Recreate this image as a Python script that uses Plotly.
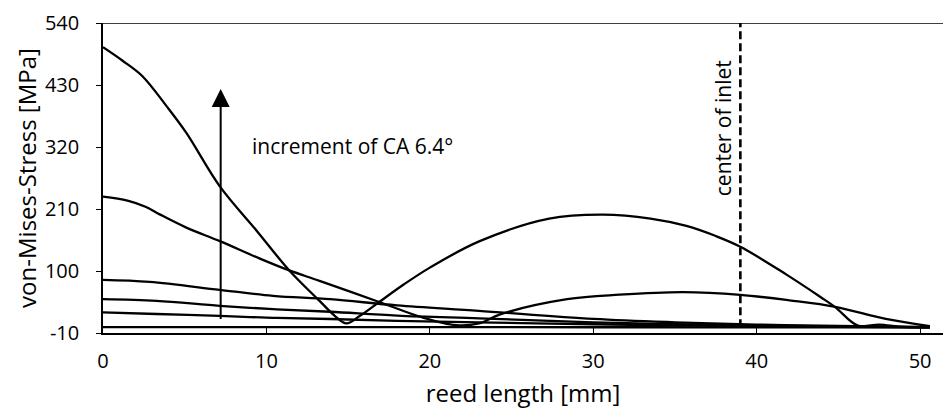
import plotly.graph_objects as go

# curve data (reed length in mm, von-Mises stress in MPa)
x1 = [0, 1.2, 2.4, 3.9, 5.1, 7.15, 9.5, 11.4, 13.25, 14.2, 14.9, 15.7, 16.9, 18.4, 20.0, 23.05, 27.3, 30.6, 33.5, 35.7, 37.5, 39.0, 41.8, 43.9, 44.8, 46.2, 47.5, 48.8, 50.6]
y1 = [497, 473, 446, 392, 345, 250, 168, 101, 47, 20, 7, 20, 45, 76, 106, 153, 193, 200, 193, 180, 162, 143, 94, 54, 36, 3, 5, 1, 0]

x2 = [0, 1.5, 2.6, 3.5, 5.1, 7.15, 9.6, 11.4, 13.25, 16.9, 19.5, 21.6, 23.0, 24.3, 28.4, 31.6, 35.5, 39.0, 42.0, 44.8, 47.9, 50.6]
y2 = [232, 225, 214, 200, 177, 153, 122, 101, 82.5, 45, 18, 4, 7, 23, 50, 58, 62.6, 57.7, 48, 36.5, 15, 2]

x3 = [0, 2.86, 7.14, 10.4, 13.9, 18.0, 23.0, 30.0, 35.0, 40.0, 45.0, 50.6]
y3 = [84.3, 80.7, 66.6, 56, 50, 39, 29.4, 15, 9, 5, 2.5, 0.5]

x4 = [0, 3.27, 7.14, 10.4, 13.9, 18.0, 23.0, 30.0, 35.0, 40.0, 45.0, 50.6]
y4 = [50, 47, 38.3, 32.4, 27.7, 21, 16, 9, 5.5, 3, 1.5, 0.3]

x5 = [0, 3.27, 7.14, 10.4, 13.9, 18.0, 23.0, 30.0, 35.0, 40.0, 45.0, 50.6]
y5 = [26.6, 23.7, 20.4, 16.9, 14.8, 11.5, 9, 5.5, 3.5, 2, 1, 0.2]

x6 = [0, 10, 20, 30, 40, 50.6]
y6 = [0.5, 0.4, 0.3, 0.2, 0.1, 0]

series = [(x1, y1), (x2, y2), (x3, y3), (x4, y4), (x5, y5), (x6, y6)]

y_ticks = [-10, 100, 210, 320, 430, 540]
x_ticks = [0, 10, 20, 30, 40, 50]
inlet_x = 39.0
arrow_x = 7.2
arrow_y0, arrow_y1 = 12, 423

FONT = "Open Sans"
CLEAR = "rgba(0,0,0,0)"

fig = go.Figure()
for xs, ys in series:
    fig.add_trace(go.Scatter(x=xs, y=ys, mode="lines",
                             line=dict(color="black", width=2.3, shape="spline", smoothing=1.0),
                             showlegend=False, hoverinfo="skip"))

# dashed center-of-inlet line
fig.add_trace(go.Scatter(x=[inlet_x, inlet_x], y=[0, 540], mode="lines",
                         line=dict(color="black", width=2.6, dash="8px,4px"),
                         showlegend=False, hoverinfo="skip"))

# top border line
fig.add_shape(type="line", xref="paper", yref="y", x0=0, x1=1, y0=540, y1=540,
              line=dict(color="black", width=1.3))

# arrow
fig.add_annotation(x=arrow_x, y=arrow_y1, ax=arrow_x, ay=arrow_y0, xref="x", yref="y",
                   axref="x", ayref="y", showarrow=True, arrowhead=2, arrowsize=1.8,
                   arrowwidth=2, arrowcolor="black", text="")

fig.add_annotation(x=9.0, y=322, xref="x", yref="y", text="increment of CA 6.4°",
                   showarrow=False, xanchor="left", yanchor="middle",
                   font=dict(family=FONT, size=21, color="black"))

fig.add_annotation(x=37.9, y=354, xref="x", yref="y", text="center of inlet",
                   showarrow=False, textangle=-90, xanchor="center", yanchor="middle",
                   font=dict(family=FONT, size=21, color="black"))

fig.update_layout(
    width=943, height=409,
    margin=dict(l=103, r=0, t=23, b=76),
    paper_bgcolor="white", plot_bgcolor="white",
    font=dict(family=FONT, size=20, color="black"),
    xaxis=dict(range=[0, 51.4], tickvals=x_ticks, ticktext=[str(v) for v in x_ticks],
               showgrid=False, zeroline=False, showline=True, linecolor="black", linewidth=1.5,
               ticks="outside", ticklen=9, tickcolor=CLEAR,
               title=dict(text="reed length [mm]", standoff=16),
               tickfont=dict(family=FONT, size=20)),
    yaxis=dict(range=[-10, 540], tickvals=y_ticks, ticktext=[str(v) for v in y_ticks],
               showgrid=False, zeroline=False, showline=True, linecolor="black", linewidth=1.5,
               ticks="outside", ticklen=18, tickcolor=CLEAR,
               title=dict(text="von-Mises-Stress [MPa]", standoff=2),
               tickfont=dict(family=FONT, size=20)),
    # overlay axes that only draw the visible tick marks
    xaxis2=dict(overlaying="x", matches="x", tickvals=x_ticks, showticklabels=False,
                showgrid=False, zeroline=False, showline=False,
                ticks="inside", ticklen=5, tickwidth=1.3, tickcolor="black"),
    yaxis2=dict(overlaying="y", matches="y", tickvals=y_ticks, showticklabels=False,
                showgrid=False, zeroline=False, showline=False,
                ticks="outside", ticklen=6, tickwidth=1.3, tickcolor="black"),
)
# invisible trace to activate overlay axes
fig.add_trace(go.Scatter(x=[x_ticks[0]], y=[y_ticks[0]], xaxis="x2", yaxis="y2", mode="markers",
                         marker=dict(opacity=0), showlegend=False, hoverinfo="skip"))

fig.write_html("out.html")
